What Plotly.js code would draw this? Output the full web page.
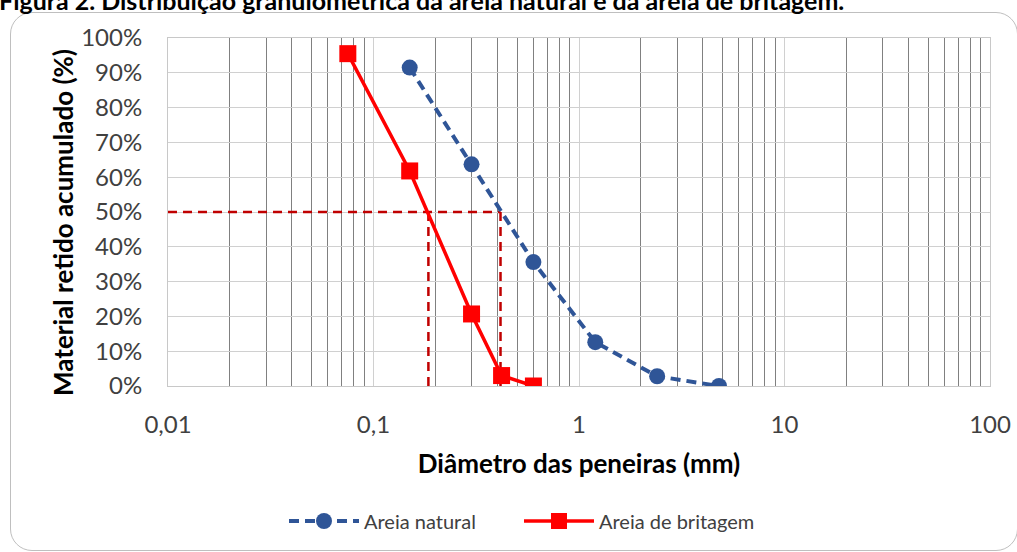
<!DOCTYPE html>
<html><head><meta charset="utf-8">
<script src="https://cdn.plot.ly/plotly-3.0.1.min.js"></script>
<style>
html,body{margin:0;padding:0;background:#fff;overflow:hidden;}
#wrap{position:relative;width:1017px;height:552px;overflow:hidden;}
#chart{position:absolute;left:0;top:0;width:1017px;height:552px;}
#frame{position:absolute;left:10px;top:12px;width:1008px;height:539px;border:1.5px solid #bfbfbf;border-radius:22px;pointer-events:none;box-sizing:border-box;}
#fig{position:absolute;left:-1px;top:-12px;font-family:'Lato','Open Sans',sans-serif;font-weight:bold;font-size:25px;line-height:25px;color:#000;white-space:nowrap;}
</style></head>
<body><div id="wrap"><div id="chart"></div><div id="frame"></div>
<div id="fig">Figura 2. Distribuição granulométrica da areia natural e da areia de britagem.</div></div>
<script>
// Data
const naturalX = [0.15, 0.3, 0.6, 1.2, 2.4, 4.8];
const naturalY = [91.5, 63.7, 35.6, 12.6, 2.8, 0];
const britagemX = [0.075, 0.15, 0.3, 0.42, 0.6];
const britagemY = [95.5, 61.8, 20.7, 3, 0];
// D50 reference lines
const d50HX = [0.01, 0.415];
const d50HY = [50, 50];
const d50BritX = [0.185, 0.185];
const d50NatX = [0.415, 0.415];
const d50VY = [0, 50];
const xTickVals = [0.01, 0.1, 1, 10, 100];
const xTickText = ['0,01', '0,1', '1', '10', '100'];
const yTickVals = [0,10,20,30,40,50,60,70,80,90,100];
const yTickText = ['0%','10%','20%','30%','40%','50%','60%','70%','80%','90%','100%'];

const minorVals = [];
for (let e = -2; e < 2; e++) for (let m = 2; m <= 9; m++) minorVals.push(m * Math.pow(10, e));

const refLine = {color:'#c00000', width:2.5, dash:'9px,6px'};
const traces = [
  {x:d50HX, y:d50HY, mode:'lines', line:refLine, showlegend:false, hoverinfo:'skip'},
  {x:d50BritX, y:d50VY, mode:'lines', line:refLine, showlegend:false, hoverinfo:'skip'},
  {x:d50NatX, y:d50VY, mode:'lines', line:refLine, showlegend:false, hoverinfo:'skip'},
  {x:naturalX, y:naturalY, name:'Areia natural', mode:'lines+markers',
   line:{color:'#2f5597', width:4, dash:'10px,6px'}, marker:{symbol:'circle', size:16, color:'#2f5597'}},
  {x:britagemX, y:britagemY, name:'Areia de britagem', mode:'lines+markers',
   line:{color:'#ff0000', width:3.5}, marker:{symbol:'square', size:17, color:'#ff0000'}}
];

const font = "Lato, 'Open Sans', sans-serif";
const layout = {
  width:1017, height:552,
  margin:{l:168, r:27, t:38, b:166},
  paper_bgcolor:'rgba(0,0,0,0)', plot_bgcolor:'#fff',
  font:{family:font, color:'#404040', size:18},
  showlegend:true,
  legend:{orientation:'h', x:0.427, xanchor:'center', y:-0.388, yanchor:'middle',
    font:{size:20, color:'#404040'}, itemwidth:70, entrywidth:150, traceorder:'normal'},
  xaxis:{type:'log', range:[-2,2], tickmode:'array', tickvals:xTickVals, ticktext:xTickText,
    showgrid:true, gridcolor:'#d0d0d0', gridwidth:1,
    minor:{tickmode:'array', tickvals:minorVals, showgrid:true, gridcolor:'#808080', gridwidth:1},
    showline:true, linecolor:'#c8c8c8', linewidth:1, mirror:true, zeroline:false,
    ticks:'', ticklabelstandoff:17, tickfont:{size:24, color:'#404040'},
    title:{text:'<b>Diâmetro das peneiras (mm)</b>', font:{size:26, color:'#000'}, standoff:18}},
  yaxis:{range:[0,100], tickmode:'array', tickvals:yTickVals, ticktext:yTickText,
    showgrid:true, gridcolor:'#d0d0d0', gridwidth:1,
    showline:true, linecolor:'#c8c8c8', linewidth:1, mirror:true, zeroline:false,
    ticks:'', ticklabelstandoff:20, tickfont:{size:24, color:'#404040'}},
  annotations:[{text:'<b>Material retido acumulado (%)</b>', xref:'paper', yref:'paper',
    x:-0.128, y:0.471, xanchor:'center', yanchor:'middle', textangle:-90, showarrow:false,
    font:{size:26, color:'#000', family:font}}]
};
Plotly.newPlot('chart', traces, layout, {displayModeBar:false, staticPlot:true});
</script></body></html>
